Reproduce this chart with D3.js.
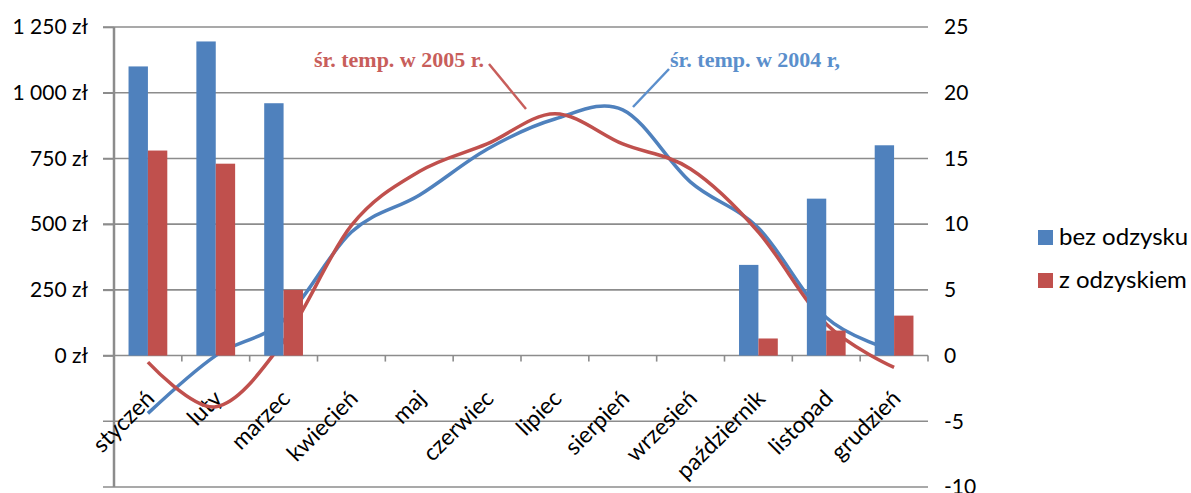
<!DOCTYPE html>
<html>
<head>
<meta charset="utf-8">
<script src="https://cdn.jsdelivr.net/npm/d3@7"></script>
<style>
  body { margin: 0; background: #fff; }
  text { font-family: Lato, "Open Sans", sans-serif; }
</style>
</head>
<body>
<div id="chart"></div>
<script>
// Monthly heating cost (zł) and average temperature (°C)
const months = ["styczeń", "luty", "marzec", "kwiecień", "maj", "czerwiec", "lipiec", "sierpień", "wrzesień", "październik", "listopad", "grudzień"];
const bezOdzysku = [1100, 1195, 960, 0, 0, 0, 0, 0, 0, 345, 597, 800];
const zOdzyskiem = [780, 730, 250, 0, 0, 0, 0, 0, 0, 65, 95, 152];
const temp2004 = [-4.4, 0.0, 2.7, 9.4, 12.2, 15.7, 18.0, 18.7, 13.2, 9.7, 2.9, 0.4];
const temp2005 = [-0.5, -3.9, 1.1, 9.9, 14.0, 16.1, 18.4, 16.1, 14.2, 9.4, 2.4, -0.9];
const costTicks = [0, 250, 500, 750, 1000, 1250];
const costLabels = ["0 zł", "250 zł", "500 zł", "750 zł", "1 000 zł", "1 250 zł"];
const tempTicks = [-10, -5, 0, 5, 10, 15, 20, 25];
const seriesNames = ["bez odzysku", "z odzyskiem"];

const width = 1191, height = 493;
const plot = { left: 114, right: 928, top: 27, bottom: 487 };
const blue = "#4f81bd", red = "#c0504d", grid = "#8c8c8c";

const svg = d3.select("#chart")
    .append("svg")
    .attr("width", width)
    .attr("height", height);

// Scales: cost axis on the left, temperature on the right (gridlines shared)
const x = d3.scaleBand()
    .domain(months)
    .range([plot.left, plot.right]);

const xSub = d3.scaleBand()
    .domain(seriesNames)
    .range([0, x.bandwidth()])
    .paddingOuter(0.75);

const yCost = d3.scaleLinear()
    .domain([-500, 1250])
    .range([plot.bottom, plot.top]);

const yTemp = d3.scaleLinear()
    .domain([-10, 25])
    .range([plot.bottom, plot.top]);

// Gridlines
svg.append("g")
    .selectAll("line")
    .data(tempTicks)
    .enter().append("line")
    .attr("x1", plot.left - 11)
    .attr("x2", plot.right)
    .attr("y1", d => yTemp(d))
    .attr("y2", d => yTemp(d))
    .attr("stroke", grid)
    .attr("stroke-width", 1.6);

// Left axis
const yAxisLeft = svg.append("g")
    .attr("transform", `translate(${plot.left},0)`)
    .call(d3.axisLeft(yCost)
        .tickValues(costTicks)
        .tickFormat((d, i) => costLabels[i])
        .tickSize(11)
        .tickPadding(15));
yAxisLeft.select(".domain").remove();
yAxisLeft.selectAll("line").attr("stroke", grid).attr("stroke-width", 1.6);
yAxisLeft.selectAll("text").style("font-size", "21px").attr("fill", "#000");

svg.append("line")
    .attr("x1", plot.left).attr("x2", plot.left)
    .attr("y1", plot.top).attr("y2", plot.bottom)
    .attr("stroke", grid)
    .attr("stroke-width", 2.5);

// Right axis (plain hyphen for negatives, as in the original)
const yAxisRight = svg.append("g")
    .attr("transform", `translate(${plot.right},0)`)
    .call(d3.axisRight(yTemp)
        .tickValues(tempTicks)
        .tickFormat(d => String(d))
        .tickSize(0)
        .tickPadding(16));
yAxisRight.select(".domain").remove();
yAxisRight.selectAll("text").style("font-size", "21px").attr("fill", "#000");

// Category tick marks at band boundaries
svg.append("g")
    .selectAll("line")
    .data(d3.range(months.length + 1))
    .enter().append("line")
    .attr("x1", i => plot.left + i * x.step())
    .attr("x2", i => plot.left + i * x.step())
    .attr("y1", yCost(0))
    .attr("y2", yCost(0) + 6)
    .attr("stroke", grid)
    .attr("stroke-width", 1.6);

// Category labels, rotated
svg.append("g")
    .selectAll("text")
    .data(months)
    .enter().append("text")
    .attr("transform", d => `translate(${x(d) + x.bandwidth() / 2 + 8},400) rotate(-45)`)
    .attr("text-anchor", "end")
    .style("font-size", "23px")
    .attr("fill", "#000")
    .text(d => d);

// Temperature lines (drawn under the bars)
const line = d3.line()
    .x((d, i) => x(months[i]) + x.bandwidth() / 2)
    .y(d => yTemp(d))
    .curve(d3.curveCatmullRom.alpha(0));

svg.append("path")
    .datum(temp2004)
    .attr("d", line)
    .attr("fill", "none")
    .attr("stroke", blue)
    .attr("stroke-width", 3.5);

svg.append("path")
    .datum(temp2005)
    .attr("d", line)
    .attr("fill", "none")
    .attr("stroke", red)
    .attr("stroke-width", 3.5);

// Bars
const barData = [
    { name: seriesNames[0], values: bezOdzysku, color: blue },
    { name: seriesNames[1], values: zOdzyskiem, color: red }
];

barData.forEach(s => {
    svg.append("g")
        .selectAll("rect")
        .data(months.map((m, i) => ({ month: m, value: s.values[i] })).filter(d => d.value > 0))
        .enter().append("rect")
        .attr("x", d => x(d.month) + xSub(s.name))
        .attr("y", d => yCost(d.value))
        .attr("width", xSub.bandwidth())
        .attr("height", d => yCost(0) - yCost(d.value))
        .attr("fill", s.color);
});

// Line annotations
svg.append("line")
    .attr("x1", 489).attr("y1", 64)
    .attr("x2", 526).attr("y2", 109)
    .attr("stroke", "#c85e5b")
    .attr("stroke-width", 2.5);

svg.append("line")
    .attr("x1", 669).attr("y1", 69)
    .attr("x2", 633).attr("y2", 107)
    .attr("stroke", "#5b8fcc")
    .attr("stroke-width", 2.5);

svg.append("text")
    .attr("x", 484)
    .attr("y", 67)
    .attr("text-anchor", "end")
    .style("font-family", "'Liberation Serif', serif")
    .style("font-weight", "bold")
    .style("font-size", "22px")
    .attr("fill", "#c85e5b")
    .text("śr. temp. w 2005 r.");

svg.append("text")
    .attr("x", 670)
    .attr("y", 67)
    .style("font-family", "'Liberation Serif', serif")
    .style("font-weight", "bold")
    .style("font-size", "22px")
    .attr("fill", "#5b8fcc")
    .text("śr. temp. w 2004 r,");

// Legend
const legend = svg.append("g")
    .selectAll("g")
    .data(barData)
    .enter().append("g")
    .attr("transform", (d, i) => `translate(1038,${230 + i * 43})`);

legend.append("rect")
    .attr("width", 15)
    .attr("height", 15)
    .attr("fill", d => d.color);

legend.append("text")
    .attr("x", 21)
    .attr("y", 15)
    .style("font-size", "24px")
    .attr("fill", "#000")
    .text(d => d.name);
</script>
</body>
</html>
